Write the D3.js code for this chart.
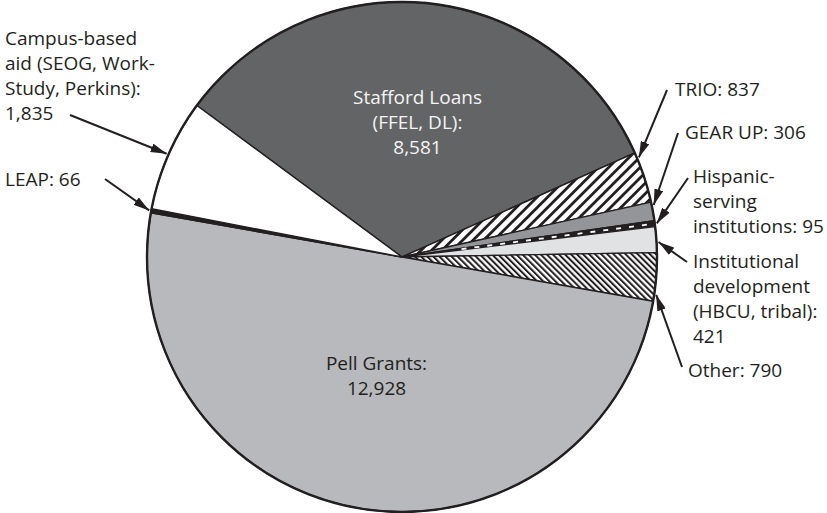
<!DOCTYPE html>
<html>
<head>
<meta charset="utf-8">
<script src="https://cdn.jsdelivr.net/npm/d3@7/dist/d3.min.js"></script>
<style>
  html, body { margin: 0; padding: 0; background: #fff; }
  svg { display: block; }
  text { font-family: "Open Sans", "Noto Sans", sans-serif; font-size: 19px; }
</style>
</head>
<body>
<svg id="chart" width="827" height="513"></svg>
<script>
// Federal student aid programs (millions of dollars), clockwise from Stafford Loans
const categories = [
  "Stafford Loans", "TRIO", "GEAR UP", "Hispanic-serving institutions",
  "Institutional development", "Other", "Pell Grants", "LEAP", "Campus-based aid"
];
const values = [8581, 837, 306, 95, 421, 790, 12928, 66, 1835];

// Label text; the value is appended either on its own line or on the last line
const labelHeads = [
  ["Stafford Loans", "(FFEL, DL):"],
  ["TRIO:"],
  ["GEAR UP:"],
  ["Hispanic-", "serving", "institutions:"],
  ["Institutional", "development", "(HBCU, tribal):"],
  ["Other:"],
  ["Pell Grants:"],
  ["LEAP:"],
  ["Campus-based", "aid (SEOG, Work-", "Study, Perkins):"]
];
const valueOwnLine = [true, false, false, false, true, false, true, false, true];

const fmt = d3.format(",");
const ink = "#231f20";

const svg = d3.select("#chart");
const cx = 402, cy = 257, R = 255;
const lineH = 25;

// Fill styles per slice
const defs = svg.append("defs");
function stripes(id, angle, size, bar) {
  const p = defs.append("pattern")
    .attr("id", id)
    .attr("patternUnits", "userSpaceOnUse")
    .attr("width", size).attr("height", size)
    .attr("patternTransform", `rotate(${angle})`);
  p.append("rect").attr("width", size).attr("height", size).attr("fill", "#fff");
  p.append("rect").attr("width", bar).attr("height", size).attr("fill", ink);
}
stripes("hatchWide", 45, 7.4, 2.8);
stripes("hatchFine", -45, 4.3, 2.0);

const fills = [
  "#636466", "url(#hatchWide)", "#939598", ink,
  "#e1e2e3", "url(#hatchFine)", "#b8b9bc", ink, "#ffffff"
];

// Arrowhead marker
defs.append("marker")
  .attr("id", "arrow")
  .attr("viewBox", "0 0 16 9")
  .attr("refX", 16).attr("refY", 4.5)
  .attr("markerWidth", 16).attr("markerHeight", 9)
  .attr("markerUnits", "userSpaceOnUse")
  .attr("orient", "auto")
  .append("path").attr("d", "M0,0 L16,4.5 L0,9 Z").attr("fill", ink);

const data = categories.map((c, i) => ({ name: c, value: values[i], i }));

const pie = d3.pie()
  .value(d => d.value)
  .sort(null)
  .startAngle(-53.55 * Math.PI / 180)
  .endAngle((360 - 53.55) * Math.PI / 180);

const arcs = pie(data);
const arc = d3.arc().innerRadius(0).outerRadius(R);

const g = svg.append("g").attr("transform", `translate(${cx},${cy})`);

g.selectAll("path.slice")
  .data(arcs)
  .join("path")
  .attr("class", "slice")
  .attr("d", arc)
  .attr("fill", d => fills[d.data.i])
  .attr("stroke", ink)
  .attr("stroke-width", 1.4)
  .attr("stroke-linejoin", "round");

// White dashes running down the narrow Hispanic-serving slice
{
  const a = arcs[3];
  const mid = (a.startAngle + a.endAngle) / 2;
  g.append("line")
    .attr("x1", Math.sin(mid) * 60).attr("y1", -Math.cos(mid) * 60)
    .attr("x2", Math.sin(mid) * (R - 3)).attr("y2", -Math.cos(mid) * (R - 3))
    .attr("stroke", "#fff")
    .attr("stroke-width", 1.8)
    .attr("stroke-dasharray", "5 8");
}

// Outer rim
g.append("circle").attr("r", R).attr("fill", "none").attr("stroke", ink).attr("stroke-width", 2.4);

// Label layout: text anchor/position, optional arrow tail and the point along the slice it targets
const layout = [
  { x: 417.5, y: 104, anchor: "middle", color: "#f4f4f4" },
  { x: 675, y: 96, anchor: "start", tail: [667, 90], at: 0.11 },
  { x: 685, y: 139, anchor: "start", tail: [678, 133], at: 0.18 },
  { x: 693, y: 183, anchor: "start", tail: [688, 178], at: 0.5 },
  { x: 693, y: 268, anchor: "start", tail: [687, 262], at: 0.6 },
  { x: 688, y: 377, anchor: "start", tail: [682, 367], at: 0.86 },
  { x: 376.5, y: 370, anchor: "middle", color: ink },
  { x: 5, y: 186, anchor: "start", tail: [105, 179], at: 0.5 },
  { x: 5, y: 45, anchor: "start", tail: [70, 115], at: 0.5 }
];

arcs.forEach(a => {
  const i = a.data.i;
  const L = layout[i];
  const v = fmt(values[i]);
  const lines = labelHeads[i].slice();
  if (valueOwnLine[i]) lines.push(v);
  else lines[lines.length - 1] = lines[lines.length - 1] + " " + v;

  const t = svg.append("text")
    .attr("text-anchor", L.anchor)
    .attr("fill", L.color || ink);
  lines.forEach((s, j) => {
    t.append("tspan").attr("x", L.x).attr("y", L.y + j * lineH).text(s);
  });

  if (L.tail) {
    const ang = a.startAngle + (a.endAngle - a.startAngle) * L.at;
    const tr = R + 2;
    svg.append("line")
      .attr("x1", L.tail[0]).attr("y1", L.tail[1])
      .attr("x2", cx + Math.sin(ang) * tr).attr("y2", cy - Math.cos(ang) * tr)
      .attr("stroke", ink)
      .attr("stroke-width", 2)
      .attr("marker-end", "url(#arrow)");
  }
});
</script>
</body>
</html>
